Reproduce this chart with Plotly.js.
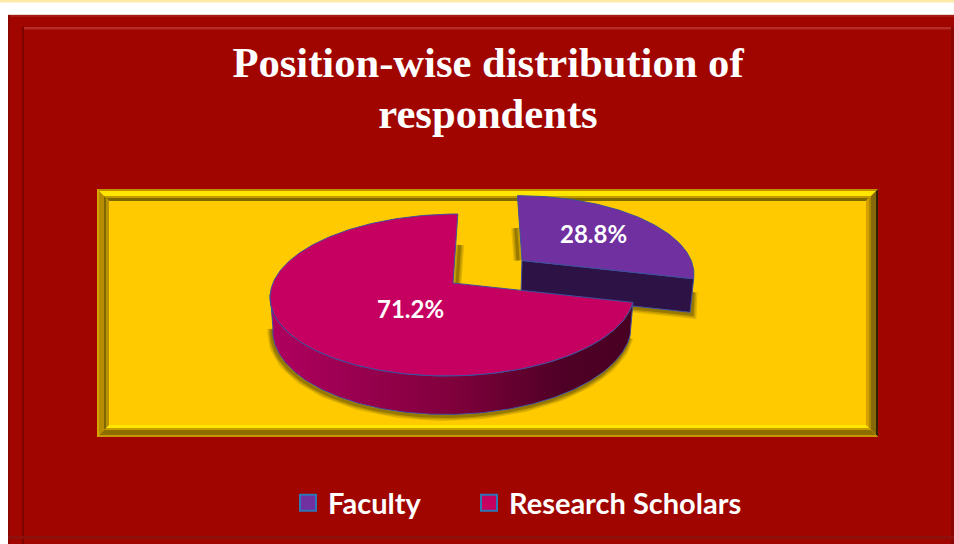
<!DOCTYPE html>
<html><head><meta charset="utf-8">
<script src="https://cdn.plot.ly/plotly-3.0.1.min.js"></script>
<style>html,body{margin:0;padding:0;background:#fff;overflow:hidden}#chart{width:954px;height:544px}</style>
</head><body><div id="chart"></div>
<script>
const chartTitle = 'Position-wise distribution of<br>respondents';
const categories = ['Faculty', 'Research Scholars'];
const shares = [28.8, 71.2];
const faceColors = ['#7030a0', '#c60060'];

const EDGE = '#3f4f9f';
const R = 180, S = 79.2, P = 0.148;
const facultyTop = {ax: 522, ay: 260.5, sx: .94, sy: .94, k: -.07};
const facultyBot = {ax: 521, ay: 294, sx: .926, sy: .94, k: -.07};
const researchTop = {ax: 453, ay: 283, sx: 1, sy: 1, k: .07};
const researchBot = {ax: 453, ay: 315, sx: .985, sy: 1.07, k: .07};

function rim(g, deg) {
  const t = deg * Math.PI / 180, u = Math.sin(t), v = Math.cos(t), d = 1 + P * v;
  return [g.ax + g.sx * R * u / d + g.k * g.sy * S * v / d, g.ay - g.sy * S * v / d];
}
function arc(g, a, b) {
  const pts = [], n = Math.max(2, Math.round(Math.abs(b - a)));
  for (let i = 0; i <= n; i++) pts.push(rim(g, a + (b - a) * i / n));
  return pts;
}
const xs = p => p.map(q => q[0]), ys = p => p.map(q => q[1]);
const total = shares.reduce((a, b) => a + b, 0);
const split = 360 * shares[0] / total;
const LEFT = 262;

function poly(pts, fill, line, extra) {
  const c = pts.concat([pts[0]]);
  return Object.assign({x: xs(c), y: ys(c), mode: 'lines', fill: 'toself', fillcolor: fill,
    line: {color: line || fill, width: line ? 1 : 0}, hoverinfo: 'skip', showlegend: false}, extra || {});
}
function shadow(pts, dx, dy) {
  const moved = pts.map(q => [q[0] + dx, q[1] + dy]);
  return [[9, .16], [6, .2], [3, .3]].map(w => ({x: xs(moved), y: ys(moved), mode: 'lines',
    line: {color: 'rgba(60,50,0,' + w[1] + ')', width: w[0]}, hoverinfo: 'skip', showlegend: false}));
}

const fApex = [facultyTop.ax, facultyTop.ay], rApex = [researchTop.ax, researchTop.ay];
const fEndTop = rim(facultyTop, split), fEndBot = rim(facultyBot, split);
const fApexBot = [facultyBot.ax, facultyBot.ay];
const fStart = rim(facultyTop, 0), rStart = rim(researchTop, 360);
const lerp = (a, b, f) => [a[0] + (b[0] - a[0]) * f, a[1] + (b[1] - a[1]) * f];

const traces = [].concat(
  shadow([lerp(fApex, fStart, .5), fApex], -4, 0),
  shadow([fApexBot, fEndBot, [fEndBot[0] + 1, fEndBot[1] - 22]], 2, 2),
  [poly([fApex, fEndTop, fEndBot, fApexBot], '#2d1245', EDGE)],
  [poly([fApex].concat(arc(facultyTop, 0, split)), faceColors[0], EDGE)],
  shadow([lerp(rApex, rStart, .55), rApex], 4, 0),
  shadow(arc(researchBot, split, LEFT), -1, 2),
  [poly(arc(researchTop, split, LEFT).concat(arc(researchBot, LEFT, split)), '#7a0038', EDGE, {
    fillgradient: {type: 'horizontal', colorscale: [[0, '#b00060'], [.5, '#80003c'], [.8, '#500026'], [1, '#480022']]}
  })],
  [poly([rApex].concat(arc(researchTop, split, 360)), faceColors[1], EDGE)],
  categories.map((c, i) => ({x: [null], y: [null], mode: 'markers', name: c, hoverinfo: 'skip',
    legendwidth: i === 0 ? 136 : undefined,
    marker: {symbol: 'square', size: 19, color: faceColors[i], line: {color: '#2e75b6', width: 2}}}))
);

function strip(a, b, top, right, bottom, left) {
  const [x0, y0, x1, y1] = [97, 189, 878, 437];
  const p = (v) => v.map((q, i) => (i ? 'L' : 'M') + q[0] + ',' + q[1]).join(' ') + ' Z';
  const sh = (pts, col) => ({type: 'path', xref: 'x', yref: 'y', path: p(pts), fillcolor: col, line: {width: 0}, layer: 'below'});
  return [
    sh([[x0 + a, y0 + a], [x1 - a, y0 + a], [x1 - b, y0 + b], [x0 + b, y0 + b]], top),
    sh([[x1 - a, y0 + a], [x1 - a, y1 - a], [x1 - b, y1 - b], [x1 - b, y0 + b]], right),
    sh([[x0 + a, y1 - a], [x1 - a, y1 - a], [x1 - b, y1 - b], [x0 + b, y1 - b]], bottom),
    sh([[x0 + a, y0 + a], [x0 + a, y1 - a], [x0 + b, y1 - b], [x0 + b, y0 + b]], left)
  ];
}
const rect = (x0, y0, x1, y1, c) => ({type: 'rect', xref: 'x', yref: 'y', x0, y0, x1, y1, fillcolor: c, line: {width: 0}, layer: 'below'});

const shapes = [
  rect(0, 0, 954, 2.5, '#fde9a8'),
  rect(8, 14, 954, 544, '#a00500'),
  rect(8, 14, 954, 15, '#e8d8d8'),
  rect(8, 15, 954, 17, '#a81a14'),
  rect(8, 15, 10, 544, '#8e0600'),
  rect(22, 27, 954, 29.5, '#b32c26'),
  rect(22, 27, 24, 544, '#7e0400'),
  rect(951, 27, 954, 544, '#8a0500'),
  rect(8, 536, 954, 539, '#8e100c'),
  rect(97, 189, 878, 437, '#ffcb00')
].concat(
  strip(0, 2, '#c09000', '#2e2400', '#c89600', '#d6a400'),
  strip(2, 7, '#ffe600', '#85690a', '#8c6e00', '#b88c00'),
  strip(7, 9, '#c09a00', '#b08800', '#c89c00', '#806800'),
  strip(9, 12, '#806a00', '#d4a000', '#ffe600', '#b89200')
);

const label = (i, x, y) => ({x, y, xref: 'x', yref: 'y', text: shares[i].toFixed(1) + '%', showarrow: false,
  font: {family: 'Lato, sans-serif', size: 24, color: '#fff', weight: 700}});

Plotly.newPlot('chart', traces, {
  width: 954, height: 544, margin: {l: 0, r: 0, t: 0, b: 0},
  paper_bgcolor: '#fff', plot_bgcolor: 'rgba(0,0,0,0)',
  xaxis: {range: [0, 954], visible: false, fixedrange: true},
  yaxis: {range: [544, 0], visible: false, fixedrange: true},
  title: {text: chartTitle, x: 488 / 954, xanchor: 'center', y: 1 - 77 / 544, yanchor: 'top',
    font: {family: '"Liberation Serif", serif', size: 42.6, color: '#fff', weight: 700}},
  showlegend: true,
  legend: {orientation: 'h', x: 288 / 954, xanchor: 'left', y: 1 - 503 / 544, yanchor: 'middle',
    bgcolor: 'rgba(0,0,0,0)', itemwidth: 30, itemclick: false, itemdoubleclick: false,
    font: {family: 'Lato, sans-serif', size: 29, color: '#fff', weight: 700}},
  shapes,
  annotations: [label(0, 593, 233.5), label(1, 410, 308)]
}, {displayModeBar: false, staticPlot: true}).then(() => {
  const lines = document.querySelectorAll('.gtitle tspan.line');
  if (lines.length > 1) lines[1].setAttribute('dy', '1.2em');
});
</script></body></html>
